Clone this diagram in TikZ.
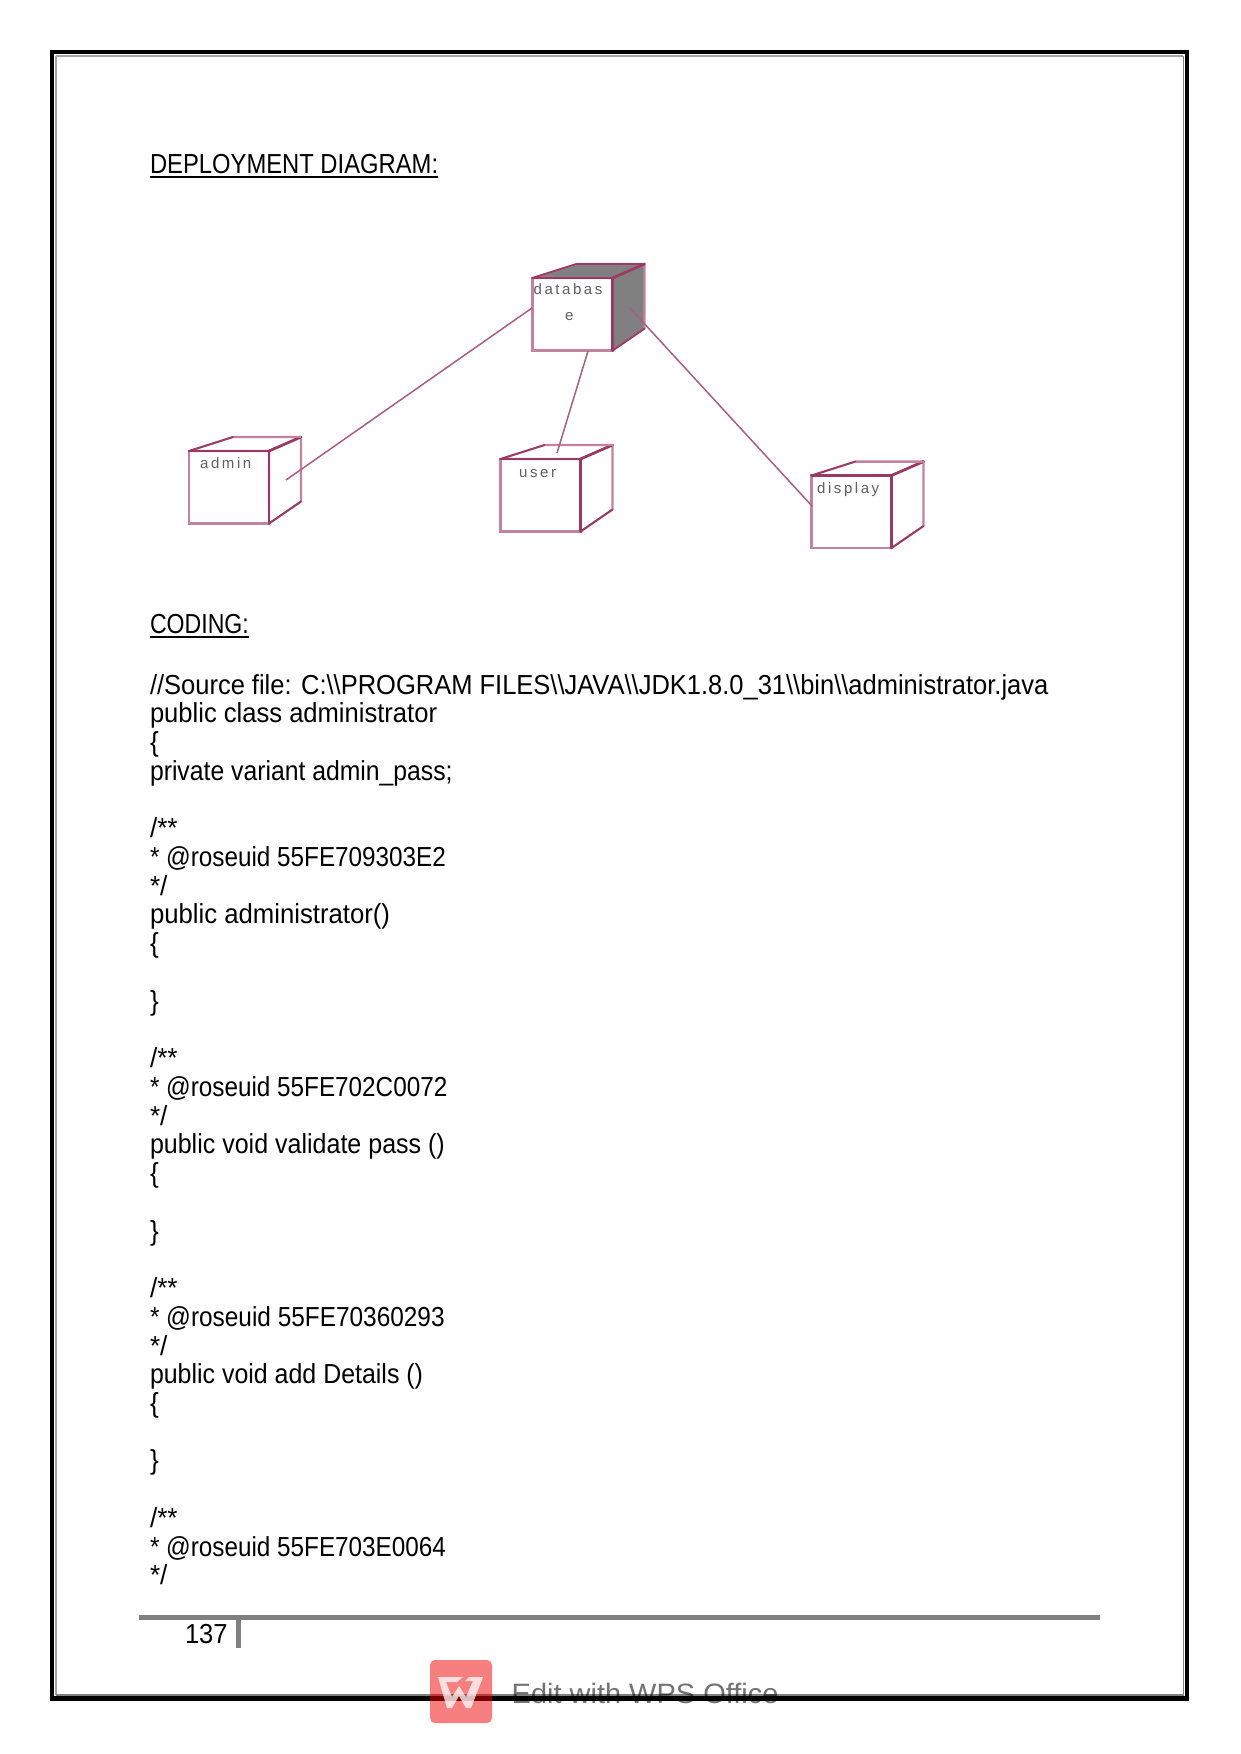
\documentclass[tikz,border=0pt]{standalone}
\usepackage{fontspec}
\setmainfont{Liberation Sans}
\newfontfamily\labelfont[LetterSpace=17]{Liberation Sans}
\usetikzlibrary{calc}
\definecolor{darkedge}{HTML}{9A3A62}
\definecolor{lightedge}{HTML}{C4839C}
\definecolor{linkcol}{HTML}{AC5E7E}
\definecolor{greyfill}{HTML}{808080}
\definecolor{labelcol}{HTML}{5F5F5F}
\tikzset{
  page/.style={x=1pt,y=-1pt},
  txt/.style={anchor=base west,inner sep=0pt,outer sep=0pt,font=\fontsize{27.5}{30}\selectfont,text=black},
  front/.style={draw=lightedge,line width=2.4pt,fill=white,inner sep=0pt,outer sep=0pt,minimum width=80pt,minimum height=72.5pt,anchor=north west},
  lightline/.style={draw=lightedge,line width=2.1pt,line join=round},
  darkline/.style={draw=darkedge,line width=2.7pt,line cap=round},
  link/.style={draw=linkcol,line width=1.5pt},
  boxlabel/.style={anchor=base west,inner sep=0pt,text=labelcol,font=\labelfont\fontsize{15}{17}\selectfont},
  ulrule/.style={draw=black,line width=1.8pt}
}
% one deployment node: name, front x, front y, colour of the rear edges, fill of the rear faces
\newcommand{\depnode}[5]{%
  \node[front] (#1) at (#2,#3) {};
  \draw[lightline,fill=#5] (#1.north west) -- ++(44,-14) -- ++(68,0) -- ++(-32,14) -- cycle;
  \draw[lightline,fill=#5] (#1.north east) -- ++(32,-14) -- ++(0,64.5) -- (#1.south east) -- cycle;
  \draw[darkline] (#1.north west) -- (#1.north east) -- (#1.south east);
  \draw[darkline,line width=1.8pt] (#1.south east) -- ++(32,-22);
  \draw[darkline] (#1.north east) -- ++(32,-14);
  \draw[#4,line width=2pt] (#1.north east) ++(32,-14) -- ++(-68,0);
  \draw[darkline,line width=1.7pt] (#1.north west) -- ++(44,-14);
}
\newcommand{\codeline}[3]{\node[txt] (line#1) at (150,{694+28.74*#1}) {\addfontfeature{FakeStretch=#2}#3};}
\begin{document}
\begin{tikzpicture}[page]
\useasboundingbox (0,0) rectangle (1241,1754);
% page frame
\coordinate (fA) at (50,50);
\coordinate (fB) at (1189,1700.5);
\draw[black,line width=4.2pt,line join=miter] ($(fA)+(2.1,2.1)$) rectangle ($(fB)+(-2.1,-2.1)$);
\draw[greyfill!70!white,line width=1.2pt] (56,56) -- (1183.4,56);
\draw[greyfill!70!white,line width=1.2pt] (56,56) -- (56,1695);
\draw[greyfill,line width=1.6pt] (56,1695.2) -- (1183.4,1695.2) -- (1183.4,56);
% headings
\node[txt] (head1) at (150,173) {\addfontfeature{FakeStretch=.865}DEPLOYMENT DIAGRAM:};
\draw[ulrule] ([yshift=-4pt]head1.base west) -- ([yshift=-4pt]head1.base east);
\node[txt] (head2) at (150,633) {\addfontfeature{FakeStretch=.84}CODING:};
\draw[ulrule] ([yshift=-4pt]head2.base west) -- ([yshift=-4pt]head2.base east);
% nodes
\depnode{database}{532.5}{278}{darkedge}{greyfill}
\depnode{admin}{189}{451}{lightedge}{white}
\depnode{user}{500.5}{459}{lightedge}{white}
\depnode{display}{811.5}{475.5}{lightedge}{white}
\node[boxlabel] (lbDb) at (533.5,294) {databas};
\node[boxlabel] (lbDbE) at (565,320) {e};
\node[boxlabel] (lbAdmin) at (200,468) {admin};
\node[boxlabel] (lbUser) at (519,477) {user};
\node[boxlabel] (lbDisplay) at (817,493) {display};
% connectors
\coordinate (adminEnd) at (286,480);
\coordinate (dbLeft) at (532,308);
\coordinate (userEnd) at (557,453);
\coordinate (dbBottom) at (588,351);
\coordinate (dbRight) at (629,307);
\coordinate (displayLeft) at (812,506);
\draw[link] (adminEnd) -- (dbLeft);
\draw[link] (userEnd) -- (dbBottom);
\draw[link] (dbRight) -- (displayLeft);
% code
\codeline{0}{.927}{//Source file: C:\textbackslash\textbackslash PROGRAM FILES\textbackslash\textbackslash JAVA\textbackslash\textbackslash JDK1.8.0\_31\textbackslash\textbackslash bin\textbackslash\textbackslash administrator.java}
\codeline{1}{.93}{public class administrator}
\codeline{2}{.95}{\{}
\codeline{3}{.90}{private variant admin\_pass;}
\codeline{5}{.95}{/**}
\codeline{6}{.883}{* @roseuid 55FE709303E2}
\codeline{7}{.95}{*/}
\codeline{8}{.935}{public administrator()}
\codeline{9}{.95}{\{}
\codeline{11}{.95}{\}}
\codeline{13}{.95}{/**}
\codeline{14}{.883}{* @roseuid 55FE702C0072}
\codeline{15}{.95}{*/}
\codeline{16}{.91}{public void validate pass ()}
\codeline{17}{.95}{\{}
\codeline{19}{.95}{\}}
\codeline{21}{.95}{/**}
\codeline{22}{.887}{* @roseuid 55FE70360293}
\codeline{23}{.95}{*/}
\codeline{24}{.907}{public void add Details ()}
\codeline{25}{.95}{\{}
\codeline{27}{.95}{\}}
\codeline{29}{.95}{/**}
\codeline{30}{.883}{* @roseuid 55FE703E0064}
\codeline{31}{.95}{*/}
% footer
\fill[greyfill] (139,1615) rectangle (1100,1620);
\fill[greyfill] (236,1620) rectangle (240.5,1648);
\node[txt] (pageno) at (185,1643) {\addfontfeature{FakeStretch=.93}137};
% watermark
\fill[red!95!black,opacity=.5,rounded corners=5pt] (430,1660) rectangle (492,1723);
\fill[white,opacity=.75] (438,1677) -- (463,1677) -- (457,1682) -- (446,1682) -- (452,1697) -- (459,1686) -- (466,1697) -- (473,1681) -- (465,1681) -- (469,1677) -- (483,1677) -- (471,1708) -- (466,1708) -- (459,1696) -- (452,1708) -- (447,1708) -- cycle;
\node[anchor=base west,inner sep=0pt,text=black,opacity=.55,font=\fontsize{28}{30}\selectfont] (wps) at (511.5,1703) {\addfontfeature{FakeStretch=1.035}Edit with WPS Office};
\end{tikzpicture}
\end{document}
